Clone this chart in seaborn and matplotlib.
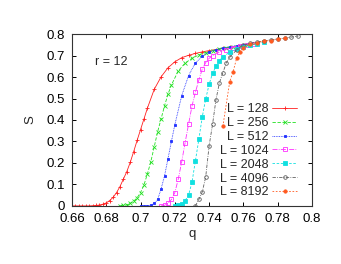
import numpy as np
import pandas as pd
import matplotlib
matplotlib.use("Agg")
import matplotlib.pyplot as plt
import seaborn as sns

# data
q_128 = [0.660, 0.662, 0.664, 0.666, 0.668, 0.670, 0.672, 0.674, 0.676, 0.678,
         0.680, 0.682, 0.684, 0.686, 0.688, 0.690, 0.692, 0.694, 0.696, 0.698,
         0.700, 0.702, 0.704, 0.708, 0.712, 0.716, 0.720, 0.724, 0.728, 0.732,
         0.736, 0.740, 0.744, 0.748, 0.752, 0.756, 0.760, 0.764, 0.768]
s_128 = [0.0, 0.0, 0.0, 0.0, 0.0, 0.0, 0.001, 0.002, 0.004, 0.008,
         0.014, 0.025, 0.040, 0.062, 0.090, 0.125, 0.160, 0.203, 0.253, 0.305,
         0.355, 0.405, 0.455, 0.543, 0.601, 0.643, 0.671, 0.690, 0.701, 0.710,
         0.717, 0.723, 0.728, 0.733, 0.738, 0.742, 0.746, 0.750, 0.754]

q_256 = [0.688, 0.690, 0.692, 0.694, 0.696, 0.698, 0.700, 0.702, 0.704, 0.706,
         0.708, 0.710, 0.712, 0.714, 0.716, 0.718, 0.722, 0.726, 0.730, 0.734,
         0.738, 0.742, 0.746, 0.750, 0.754, 0.758, 0.762]
s_256 = [0.0, 0.002, 0.005, 0.012, 0.022, 0.038, 0.062, 0.098, 0.149, 0.206,
         0.276, 0.346, 0.406, 0.466, 0.520, 0.563, 0.628, 0.665, 0.687, 0.703,
         0.714, 0.723, 0.730, 0.736, 0.741, 0.746, 0.750]

q_512 = [0.700, 0.702, 0.704, 0.706, 0.708, 0.710, 0.712, 0.714, 0.716, 0.718,
         0.720, 0.724, 0.728, 0.732, 0.736, 0.740, 0.744, 0.748, 0.752, 0.756,
         0.760, 0.764]
s_512 = [0.0, 0.0, 0.001, 0.004, 0.012, 0.030, 0.080, 0.140, 0.220, 0.300,
         0.378, 0.513, 0.607, 0.665, 0.698, 0.716, 0.727, 0.735, 0.741, 0.746,
         0.750, 0.754]

q_1024 = [0.712, 0.714, 0.716, 0.718, 0.720, 0.722, 0.724, 0.726, 0.728, 0.730,
          0.732, 0.734, 0.736, 0.738, 0.740, 0.742, 0.746, 0.750, 0.754, 0.758,
          0.762, 0.766]
s_1024 = [0.0, 0.003, 0.012, 0.030, 0.062, 0.125, 0.205, 0.295, 0.380, 0.465,
          0.529, 0.586, 0.637, 0.667, 0.687, 0.700, 0.716, 0.728, 0.737, 0.745,
          0.751, 0.756]

q_2048 = [0.720, 0.722, 0.724, 0.726, 0.728, 0.730, 0.732, 0.734, 0.736, 0.738,
          0.740, 0.742, 0.744, 0.746, 0.748, 0.752, 0.756, 0.760, 0.764, 0.768,
          0.772]
s_2048 = [0.0, 0.002, 0.008, 0.025, 0.050, 0.110, 0.210, 0.310, 0.415, 0.498,
          0.566, 0.617, 0.650, 0.675, 0.695, 0.715, 0.730, 0.742, 0.750, 0.756,
          0.762]

q_4096 = [0.732, 0.734, 0.736, 0.738, 0.740, 0.742, 0.744, 0.746, 0.748, 0.750,
          0.752, 0.756, 0.760, 0.764, 0.768, 0.772, 0.776, 0.780, 0.784, 0.788,
          0.792]
s_4096 = [0.0, 0.030, 0.065, 0.135, 0.280, 0.380, 0.495, 0.573, 0.620, 0.665,
          0.692, 0.726, 0.749, 0.757, 0.763, 0.768, 0.773, 0.777, 0.781, 0.786,
          0.790]

q_8192 = [0.748, 0.752, 0.754, 0.756, 0.758, 0.760, 0.764, 0.768, 0.772, 0.776,
          0.780, 0.784]
s_8192 = [0.370, 0.578, 0.625, 0.687, 0.718, 0.736, 0.754, 0.760, 0.767, 0.770,
          0.777, 0.780]

sizes = ["128", "256", "512", "1024", "2048", "4096", "8192"]
qs = [q_128, q_256, q_512, q_1024, q_2048, q_4096, q_8192]
ss = [s_128, s_256, s_512, s_1024, s_2048, s_4096, s_8192]

colors = ["#ff2020", "#20e020", "#2030ff", "#ff30ff", "#10e0e0", "#606060", "#ff5a20"]
markers = ["+", "x", "s", "s", "s", "o", "o"]
filled = [True, True, True, False, True, False, True]
msizes = [3, 2.6, 2, 3, 2.4, 2.6, 2.4]
styles = ["-", (0, (4, 2)), (0, (1, 1)), (0, (6, 1.5, 1, 1.5)), (0, (3, 2)),
          (0, (4, 1.5, 1, 1.5)), (0, (2, 2))]

sns.set_style("ticks")
plt.rcParams["font.family"] = ["Liberation Sans", "DejaVu Sans"]
plt.rcParams["font.size"] = 9

fig = plt.figure(figsize=(3.41, 2.64), dpi=100)
ax = fig.add_axes([0.211, 0.22, 0.704, 0.651])

for L, q, s, c, m, f, ms, ls in zip(sizes, qs, ss, colors, markers, filled, msizes, styles):
    df = pd.DataFrame({"q": q, "S": s})
    sns.lineplot(data=df, x="q", y="S", ax=ax, color=c, linewidth=0.6,
                 linestyle=ls, marker=m, markersize=ms,
                 markerfacecolor=(c if f else "none"), markeredgecolor=c,
                 markeredgewidth=0.6, label="L = " + L)

ax.set_xlim(0.66, 0.8)
ax.set_ylim(0, 0.8)
ax.set_xticks(np.arange(0.66, 0.8001, 0.02))
ax.set_xticklabels(["0.66", "0.68", "0.7", "0.72", "0.74", "0.76", "0.78", "0.8"])
ax.set_yticks(np.arange(0, 0.8001, 0.1))
ax.set_yticklabels(["0", "0.1", "0.2", "0.3", "0.4", "0.5", "0.6", "0.7", "0.8"])
ax.tick_params(direction="in", length=3, width=0.7, top=True, right=True,
               labelsize=9.5, colors="black")
ax.tick_params(axis="x", pad=5)
ax.tick_params(axis="y", pad=5)
for sp in ax.spines.values():
    sp.set_linewidth(0.8)
    sp.set_color("#333333")
ax.set_xlabel("q", fontsize=9.5, labelpad=2)
ax.set_ylabel("S", fontsize=9.5, labelpad=7)

ax.text(0.6735, 0.67, "r = 12", fontsize=9, ha="left", va="center")

ax.legend(loc="lower right", bbox_to_anchor=(0.97, 0.0), frameon=False,
          markerfirst=False, fontsize=9, labelspacing=0.15, handlelength=2.0,
          handletextpad=0.3, borderaxespad=0.2, numpoints=1)

fig.savefig("out.png", dpi=100)
